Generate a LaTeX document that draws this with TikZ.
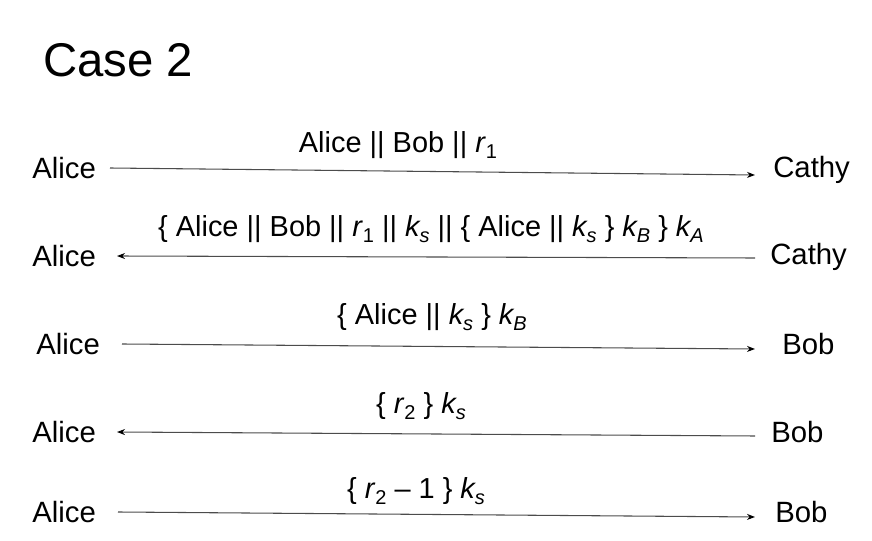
\documentclass[tikz,border=0pt]{standalone}
\usepackage{fontspec}
\setmainfont{Liberation Sans}
\usetikzlibrary{arrows.meta}
\newcommand{\sbs}[1]{\raisebox{-0.22em}{\fontsize{15pt}{15pt}\selectfont #1}}
\begin{document}
\begin{tikzpicture}[x=0.75pt,y=-0.75pt,
  lbl/.style={anchor=west,inner sep=0pt,font=\fontsize{22pt}{26pt}\selectfont},
  msg/.style={inner sep=0pt,font=\fontsize{21.7pt}{26pt}\selectfont},
  arr/.style={draw=black!70,line width=0.8pt,-{Stealth[length=6pt,width=4.5pt,black]}}]
\useasboundingbox (0,0) rectangle (872,541);
\node[anchor=west,inner sep=0pt,font=\fontsize{35.5pt}{40pt}\selectfont] (title) at (43,60) {Case 2};
% row 1
\node[lbl] (a1) at (32,168) {Alice};
\node[lbl] (c1) at (773,170) {Cathy};
\node[msg] (m1) at (398,145) {Alice || Bob || \textit{r}\sbs{1}};
\coordinate (s1) at (110,168);
\coordinate (e1) at (755,175);
\draw[arr] (s1) -- (e1);
% row 2
\node[lbl] (a2) at (32,256) {Alice};
\node[lbl] (c2) at (770,257) {Cathy};
\node[msg] (m2) at (431,229) {\{ Alice || Bob || \textit{r}\sbs{1} || \textit{k\sbs{s}} || \{ Alice || \textit{k\sbs{s}} \} \textit{k\sbs{B}} \} \textit{k\sbs{A}}};
\coordinate (s2) at (755,258);
\coordinate (e2) at (117,256);
\draw[arr] (s2) -- (e2);
% row 3
\node[lbl] (a3) at (36,344) {Alice};
\node[lbl] (b3) at (782,344) {Bob};
\node[msg] (m3) at (432,317) {\{ Alice || \textit{k\sbs{s}} \} \textit{k\sbs{B}}};
\coordinate (s3) at (122,344);
\coordinate (e3) at (755,349);
\draw[arr] (s3) -- (e3);
% row 4
\node[lbl] (a4) at (32,432) {Alice};
\node[lbl] (b4) at (771,432) {Bob};
\node[msg] (m4) at (421,406) {\{ \textit{r}\sbs{2} \} \textit{k\sbs{s}}};
\coordinate (s4) at (755,436);
\coordinate (e4) at (117,432);
\draw[arr] (s4) -- (e4);
% row 5
\node[lbl] (a5) at (32,512) {Alice};
\node[lbl] (b5) at (775,512) {Bob};
\node[msg] (m5) at (416,491) {\{ \textit{r}\sbs{2} -- 1 \} \textit{k\sbs{s}}};
\coordinate (s5) at (118,512);
\coordinate (e5) at (755,517);
\draw[arr] (s5) -- (e5);
\end{tikzpicture}
\end{document}
